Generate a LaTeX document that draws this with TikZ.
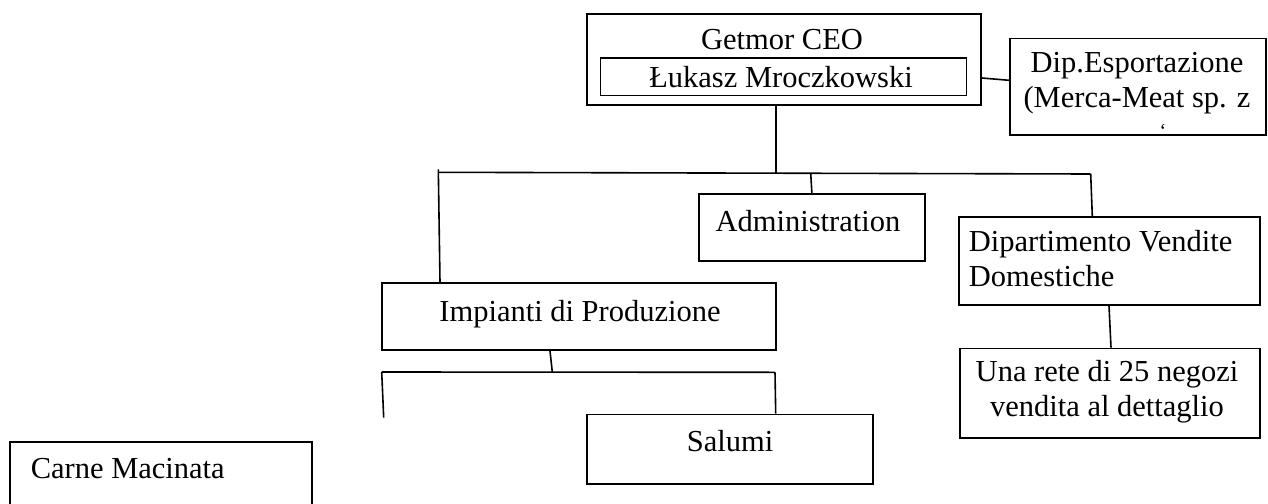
\documentclass[tikz,border=0pt]{standalone}
\usepackage{fontspec}
\setmainfont{Liberation Serif}

\begin{document}
\begin{tikzpicture}[x=1pt,y=-1pt,draw=black,line width=1.6pt,
    box/.style={draw=black,fill=white,line width=1.8pt,inner sep=0pt},
    namebox/.style={box,line width=1.3pt},
    txt/.style={font=\fontsize{30.5}{35}\selectfont,inner sep=0pt,anchor=base}]

    \useasboundingbox (0,0) rectangle (1268,503);
    \fill [white] (0,0) rectangle (1268,503);
    \clip (0,0) rectangle (1268,503);

    % top
    \node [box,minimum width=394pt,minimum height=91.3pt] (ceo) at (784,59.7) {};
    \node [namebox,minimum width=366.4pt,minimum height=37.3pt] (ceoname) at (783.5,76.7) {};
    \node [txt] (ceotitle) at (782,50) {Getmor CEO};
    \node [txt] (ceoperson) at (781,87.3) {Łukasz Mroczkowski};

    \node [box,minimum width=256pt,minimum height=96.5pt] (dip) at (1138,86.75) {};
    \node [txt,align=center] (diptext) at (1137,107.3) {Dip.Esportazione\\(Merca-Meat sp. z};
    \node [txt,font=\fontsize{20}{20}\selectfont] (dipcut) at (1163,137) {\symbol{96}};

    % second row
    \node [box,minimum width=226.3pt,minimum height=67.3pt] (adm) at (811.85,227.35) {};
    \node [txt] (admtext) at (808,231.7) {Administration};

    \node [box,minimum width=301pt,minimum height=88pt] (vend) at (1109.5,261) {};
    \node [txt,anchor=base west,align=left] (vendtext) at (968,286.7) {Dipartimento Vendite\\Domestiche};

    \node [box,minimum width=300pt,minimum height=89.5pt] (rete) at (1110,393.25) {};
    \node [txt,align=center] (retetext) at (1107,416.7) {Una rete di 25 negozi\\vendita al dettaglio};

    \node [box,minimum width=394pt,minimum height=66.7pt] (imp) at (579,316.65) {};
    \node [txt] (imptext) at (580,321.7) {Impianti di Produzione};

    % bottom row
    \node [box,minimum width=286.3pt,minimum height=69.5pt] (sal) at (729.85,449.25) {};
    \node [txt] (saltext) at (730,451.7) {Salumi};

    \node [box,minimum width=302pt,minimum height=77.8pt] (carne) at (161,481.2) {};
    \node [txt,anchor=base west] (carnetext) at (30,478) {Carne Macinata};

    % X % 438.3  775.7  810.7  1090.7
    \coordinate (busL) at (438.3,172.3);
    \coordinate (ceoJ) at (775.7,172.7);
    \coordinate (admJ) at (810.7,172.9);
    \coordinate (busR) at (1090.7,174);

    % X % 381.7  552.3  775
    \coordinate (subL) at (381.7,372);
    \coordinate (subJ) at (552.3,372.1);
    \coordinate (subR) at (775,372.3);
    \coordinate (stub) at (383.7,417.7);

    \draw ([yshift=-18.3pt]ceo.east) -- ([yshift=6.45pt]dip.west);
    \draw ([xshift=-8.3pt]ceo.south) -- (ceoJ);
    \draw (busL) -- (busR);
    \draw ([xshift=-139pt]imp.north) -- ([yshift=3pt]busL);
    \draw (admJ) -- (adm.north);
    \draw (busR) -- ([xshift=-17.2pt]vend.north);
    \draw ([xshift=-0.5pt]vend.south) -- ([xshift=1pt]rete.north);

    \draw ([xshift=-29pt]imp.south) -- (subJ);
    \draw (subL) -- (subR);
    \draw (subL) -- (stub);
    \draw (subR) -- ([xshift=45.85pt]sal.north);
\end{tikzpicture}
\end{document}
